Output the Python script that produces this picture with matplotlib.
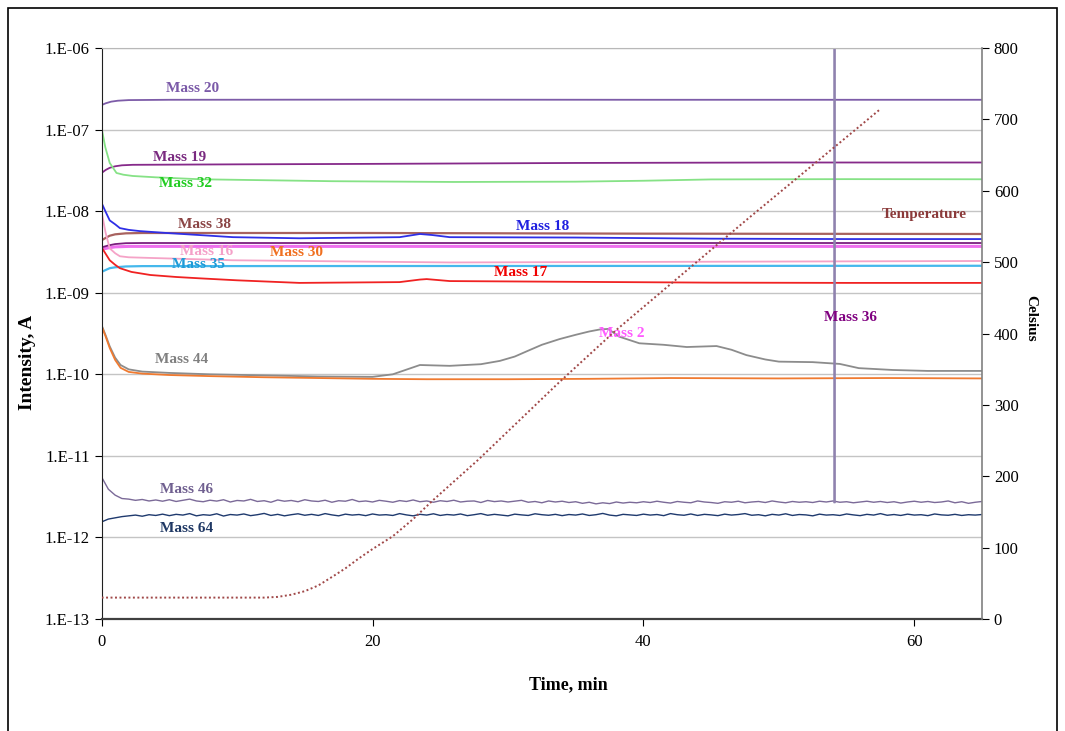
import numpy as np
import matplotlib
matplotlib.use("Agg")
import matplotlib.pyplot as plt
from matplotlib.patches import Rectangle

plt.rcParams['font.family'] = ['Liberation Serif', 'DejaVu Serif']

# --- smooth MS signals: time (min), intensity (A) ---
t20 = [0, 0.3, 0.7, 1.2, 2, 5, 20, 40, 65]
m20 = [2.0e-7, 2.1e-7, 2.2e-7, 2.26e-7, 2.3e-7, 2.32e-7, 2.33e-7, 2.32e-7, 2.32e-7]

t19 = [0, 0.3, 0.6, 1.0, 1.5, 2.3, 10, 20, 35, 50, 65]
m19 = [2.94e-8, 3.2e-8, 3.4e-8, 3.55e-8, 3.65e-8, 3.7e-8, 3.75e-8, 3.8e-8, 3.9e-8, 3.95e-8, 3.95e-8]

t32 = [0, 0.27, 0.6, 1.1, 1.6, 2.3, 4, 7.3, 17, 26, 35, 40, 45, 55, 65]
m32 = [1.04e-7, 6.1e-8, 3.9e-8, 2.94e-8, 2.8e-8, 2.7e-8, 2.6e-8, 2.46e-8, 2.33e-8, 2.28e-8,
       2.3e-8, 2.36e-8, 2.45e-8, 2.47e-8, 2.46e-8]

t18 = [0, 0.3, 0.6, 1.0, 1.35, 2.0, 2.8, 4.8, 9.7, 14.6, 22, 23.5, 24.4, 25.7, 35, 45, 55, 65]
m18 = [1.26e-8, 9.8e-9, 7.7e-9, 6.9e-9, 6.2e-9, 5.9e-9, 5.7e-9, 5.4e-9, 4.8e-9, 4.65e-9,
       4.8e-9, 5.25e-9, 5.1e-9, 4.8e-9, 4.75e-9, 4.6e-9, 4.55e-9, 4.55e-9]

t38 = [0, 0.3, 0.6, 1.0, 1.8, 3, 20, 40, 65]
m38 = [4.4e-9, 4.7e-9, 5.0e-9, 5.2e-9, 5.35e-9, 5.4e-9, 5.4e-9, 5.3e-9, 5.25e-9]

t36 = [0, 0.5, 1.0, 1.8, 3, 65]
m36 = [3.6e-9, 3.8e-9, 3.95e-9, 4.05e-9, 4.07e-9, 4.07e-9]

t2 = [0, 0.5, 1.0, 2, 65]
m2 = [3.4e-9, 3.55e-9, 3.65e-9, 3.7e-9, 3.7e-9]

t16 = [0, 0.3, 0.6, 1.0, 1.35, 2, 3.6, 9.7, 25.7, 45, 65]
m16 = [9.8e-9, 5.4e-9, 3.5e-9, 3.05e-9, 2.8e-9, 2.72e-9, 2.67e-9, 2.5e-9, 2.35e-9, 2.4e-9, 2.45e-9]

t35 = [0, 0.3, 0.6, 1.0, 1.8, 3, 65]
m35 = [1.8e-9, 1.9e-9, 2.0e-9, 2.05e-9, 2.1e-9, 2.12e-9, 2.14e-9]

t17 = [0, 0.3, 0.6, 1.0, 1.35, 2.2, 3.6, 5.5, 7.3, 10, 14.6, 22, 23.5, 24, 25.7, 35, 45, 55, 65]
m17 = [3.6e-9, 3.0e-9, 2.5e-9, 2.2e-9, 2.0e-9, 1.8e-9, 1.65e-9, 1.56e-9, 1.5e-9, 1.42e-9,
       1.32e-9, 1.35e-9, 1.45e-9, 1.47e-9, 1.39e-9, 1.36e-9, 1.33e-9, 1.32e-9, 1.32e-9]

t44 = [0, 0.3, 0.6, 1.0, 1.4, 2.0, 3, 5, 8, 12, 16, 20, 21.5, 23.5, 25.7, 28, 29.4, 30.5,
       31.5, 32.5, 33.8, 35, 36, 36.8, 37.4, 38.2, 39.7, 41.5, 43.2, 45.4, 46.5, 47.6, 49,
       50, 52.5, 54.5, 55.9, 58.4, 61, 65]
m44 = [4.0e-10, 3.0e-10, 2.2e-10, 1.6e-10, 1.3e-10, 1.15e-10, 1.08e-10, 1.04e-10, 1.0e-10,
       9.7e-11, 9.4e-11, 9.3e-11, 1.0e-10, 1.3e-10, 1.27e-10, 1.33e-10, 1.46e-10, 1.65e-10,
       1.95e-10, 2.3e-10, 2.7e-10, 3.05e-10, 3.35e-10, 3.55e-10, 3.6e-10, 2.9e-10, 2.4e-10,
       2.3e-10, 2.16e-10, 2.22e-10, 2.0e-10, 1.72e-10, 1.52e-10, 1.43e-10, 1.41e-10, 1.34e-10,
       1.19e-10, 1.13e-10, 1.1e-10, 1.1e-10]

t30 = [0, 0.3, 0.6, 1.0, 1.4, 2.0, 3, 5, 8, 12, 16, 20, 24, 30, 36, 42, 50, 58, 65]
m30 = [3.9e-10, 2.9e-10, 2.1e-10, 1.5e-10, 1.2e-10, 1.07e-10, 1.02e-10, 9.8e-11, 9.5e-11,
       9.2e-11, 9.0e-11, 8.8e-11, 8.7e-11, 8.7e-11, 8.8e-11, 9.0e-11, 8.9e-11, 9.0e-11, 8.9e-11]

# --- noisy low signals, sampled every 0.5 min, in 1E-12 A ---
t_noise = np.arange(0, 65.01, 0.5)
m46 = [5.5, 3.9, 3.3, 3.0, 2.95, 2.85, 2.92, 2.8, 2.88, 2.78,
       2.9, 2.76, 2.85, 2.95, 2.8, 2.74, 2.86, 2.79, 2.9, 2.72,
       2.84, 2.8, 2.93, 2.76, 2.82, 2.7, 2.88, 2.78, 2.84, 2.74,
       2.9, 2.8, 2.76, 2.86, 2.7, 2.82, 2.78, 2.92, 2.75, 2.8,
       2.72, 2.85, 2.78, 2.7, 2.83, 2.76, 2.88, 2.74, 2.8, 2.7,
       2.82, 2.76, 2.86, 2.72, 2.78, 2.8, 2.68, 2.84, 2.75, 2.8,
       2.72, 2.78, 2.85, 2.7, 2.76, 2.66, 2.8, 2.72, 2.78, 2.68,
       2.74, 2.62, 2.7, 2.58, 2.66, 2.6, 2.72, 2.64, 2.7, 2.66,
       2.74, 2.68, 2.78, 2.7, 2.64, 2.76, 2.7, 2.66, 2.8, 2.72,
       2.68, 2.62, 2.74, 2.7, 2.78, 2.66, 2.72, 2.76, 2.68, 2.8,
       2.72, 2.66, 2.76, 2.7, 2.74, 2.68, 2.78, 2.72, 2.8, 2.7,
       2.74, 2.66, 2.72, 2.78, 2.7, 2.76, 2.68, 2.74, 2.64, 2.72,
       2.78, 2.7, 2.76, 2.68, 2.72, 2.8, 2.66, 2.74, 2.62, 2.7,
       2.76]
m64 = [1.55, 1.68, 1.74, 1.8, 1.84, 1.88, 1.82, 1.9, 1.86, 1.93,
       1.85, 1.92, 1.88, 1.96, 1.84, 1.9, 1.87, 1.95, 1.83, 1.91,
       1.88, 1.94, 1.85, 1.9, 1.97, 1.86, 1.92, 1.84, 1.9, 1.95,
       1.87, 1.92, 1.86, 1.96, 1.89, 1.84, 1.93, 1.88, 1.91, 1.85,
       1.94, 1.88, 1.9, 1.86, 1.96, 1.89, 1.84, 1.92, 1.88, 1.95,
       1.86, 1.91, 1.88, 1.94, 1.85, 1.9, 1.96, 1.87, 1.92, 1.88,
       1.84, 1.93, 1.89, 1.86, 1.95, 1.9, 1.87, 1.92, 1.85, 1.91,
       1.88, 1.94, 1.86, 1.9, 1.97, 1.88, 1.84, 1.92, 1.89, 1.86,
       1.93, 1.88, 1.91, 1.85, 1.96, 1.9, 1.87, 1.94, 1.86, 1.92,
       1.89, 1.85, 1.93, 1.88, 1.91, 1.96, 1.87, 1.9, 1.84, 1.92,
       1.88, 1.95, 1.86, 1.91, 1.89, 1.84, 1.93, 1.88, 1.9, 1.86,
       1.94, 1.89, 1.85, 1.92, 1.88, 1.96, 1.87, 1.91, 1.86, 1.93,
       1.88, 1.9, 1.85, 1.94, 1.89, 1.87, 1.92, 1.86, 1.9, 1.88,
       1.91]
# single spike in mass 46 signal
spike_t = [54.1, 54.11, 54.12]
spike_v = [2.7e-12, 1e-5, 2.7e-12]

# temperature, Celsius
t_temp = [0, 12, 13, 14, 15, 16, 17.1, 18, 19, 20, 21.5, 23, 24.5, 27.8, 33.8, 38.0, 47.6, 57.4]
temp = [30, 30, 31, 34, 39, 47, 60, 71, 85, 98, 116, 140, 167, 223, 332, 405, 559, 713]

ytick_vals = [1e-13, 1e-12, 1e-11, 1e-10, 1e-9, 1e-8, 1e-7, 1e-6]
ytick_labels = ['1.E-13', '1.E-12', '1.E-11', '1.E-10', '1.E-09', '1.E-08', '1.E-07', '1.E-06']

fig = plt.figure(figsize=(10.65, 7.31), dpi=100)
ax = fig.add_axes([0.0954, 0.1532, 0.8267, 0.7811])

series = [
    (t20, m20, '#7D5CA8', 1.3),
    (t19, m19, '#862A8A', 1.3),
    (t32, m32, '#86E286', 1.3),
    (t38, m38, '#A8625F', 1.6),
    (t2, m2, '#EE70EE', 2.2),
    (t36, m36, '#7A1E7E', 1.3),
    (t18, m18, '#2F2FE6', 1.3),
    (t16, m16, '#F5A3C7', 1.3),
    (t35, m35, '#45B8EC', 1.6),
    (t17, m17, '#F02222', 1.3),
    (t44, m44, '#8C8C8C', 1.3),
    (t30, m30, '#F07A30', 1.3),
]
for tt, vv, c, lw in series:
    ax.plot(tt, vv, color=c, lw=lw)

ax.plot(t_noise, np.array(m46) * 1e-12, color='#7B6A98', lw=1.0)
ax.plot(spike_t, spike_v, color='#8F82AE', lw=1.3)
ax.plot(t_noise, np.array(m64) * 1e-12, color='#1F3A6E', lw=1.0)

ax.set_yscale('log')
ax.set_ylim(1e-13, 1e-6)
ax.set_xlim(0, 65)
ax.set_yticks(ytick_vals)
ax.set_yticklabels(ytick_labels)
ax.yaxis.set_minor_locator(matplotlib.ticker.NullLocator())
ax.set_xticks([0, 20, 40, 60])
ax.grid(axis='y', color='#C4C4C4', lw=1)
ax.tick_params(axis='both', direction='out', length=5, labelsize=12, colors='black')
ax.tick_params(axis='x', pad=6)
ax.spines['top'].set_color('#B8B8B8')
ax.spines['right'].set_visible(False)
ax.spines['left'].set_color('#202020')
ax.spines['bottom'].set_color('#404040')
ax.spines['bottom'].set_linewidth(1.6)

ax2 = ax.twinx()
ax2.plot(t_temp, temp, color='#A04848', lw=1.4, linestyle=(0, (1, 1.3)))
ax2.set_ylim(0, 800)
ax2.set_yticks(range(0, 801, 100))
ax2.tick_params(axis='y', direction='out', length=5, labelsize=12)
ax2.spines['right'].set_color('#808080')
ax2.spines['right'].set_linewidth(1.2)
for s in ['top', 'left', 'bottom']:
    ax2.spines[s].set_visible(False)

# text labels placed on the plot
labels = ['Mass 20', 'Mass 19', 'Mass 32', 'Mass 38', 'Mass 16', 'Mass 30', 'Mass 35',
          'Mass 18', 'Mass 17', 'Mass 44', 'Mass 2', 'Mass 36', 'Temperature',
          'Mass 46', 'Mass 64']
label_colors = ['#7B5AA8', '#7A2A80', '#22CC22', '#8B4545', '#F4A0C8', '#F07020', '#1E9BD7',
                '#2020E0', '#F00000', '#808080', '#FF5CFF', '#800080', '#8B3A3A',
                '#706090', '#1F3864']
label_pos = [(6.75, 3.2e-7), (5.78, 4.5e-8), (6.22, 2.2e-8), (7.63, 6.95e-9), (7.77, 3.24e-9),
             (14.4, 3.07e-9), (7.18, 2.19e-9), (32.55, 6.4e-9), (30.93, 1.75e-9),
             (5.93, 1.5e-10), (38.38, 3.2e-10), (55.3, 5.0e-10), (60.7, 9.2e-9),
             (6.3, 3.9e-12), (6.3, 1.27e-12)]
for lab, c, (x, y) in zip(labels, label_colors, label_pos):
    ax.text(x, y, lab, color=c, fontsize=11, fontweight='bold', ha='center', va='center', zorder=5)

fig.text(568 / 1065, 1 - 685 / 731, 'Time, min', fontsize=13, fontweight='bold',
         ha='center', va='center')
fig.text(28 / 1065, 1 - 362 / 731, 'Intensity, A', fontsize=14, fontweight='bold',
         ha='center', va='center', rotation=90)
fig.text(1031 / 1065, 1 - 318 / 731, 'Celsius', fontsize=11, fontweight='bold',
         ha='center', va='center', rotation=270)

fig.add_artist(Rectangle((0.0075, -0.05), 0.985, 1.039, fill=False, ec='black', lw=1.2,
                         transform=fig.transFigure))

fig.savefig('out.png', dpi=100)
